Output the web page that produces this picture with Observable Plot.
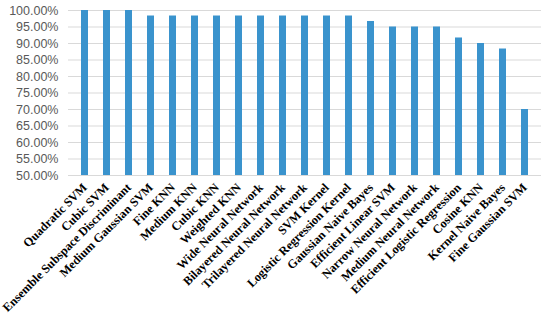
<!DOCTYPE html>
<html><head><meta charset="utf-8">
<script src="https://cdn.jsdelivr.net/npm/d3@7"></script>
<script src="https://cdn.jsdelivr.net/npm/@observablehq/plot@0.6"></script>
<style>body{margin:0;background:#fff}</style>
</head><body><div id="chart"></div>
<script>
const models = ["Quadratic SVM","Cubic SVM","Ensemble Subspace Discriminant","Medium Gaussian SVM","Fine KNN","Medium KNN","Cubic KNN","Weighted KNN","Wide Neural Network","Bilayered Neural Network","Trilayered Neural Network","SVM Kernel","Logistic Regression Kernel","Gaussian Naive Bayes","Efficient Linear SVM","Narrow Neural Network","Medium Neural Network","Efficient Logistic Regression","Cosine KNN","Kernel Naive Bayes","Fine Gaussian SVM"];
const accuracy = [100,100,100,98.33,98.33,98.33,98.33,98.33,98.33,98.33,98.33,98.33,98.33,96.67,95,95,95,91.67,90,88.33,70];
const yTicks = [50,55,60,65,70,75,80,85,90,95,100];
const data = models.map((m,i)=>({model:m, acc:accuracy[i]}));
const chart = Plot.plot({
  width:550, height:314,
  marginTop:10, marginBottom:139, marginLeft:68, marginRight:9,
  style:{background:"#fff"},
  x:{domain:models, paddingInner:0.69, paddingOuter:0.4, label:null},
  y:{domain:[50,100], label:null},
  marks:[
    Plot.gridY(yTicks,{stroke:"#d9d9d9", strokeOpacity:1, strokeWidth:1}),
    Plot.barY(data,{x:"model", y1:50, y2:"acc", fill:"#3a93cd"}),
    Plot.axisY({ticks:yTicks, tickSize:0, tickPadding:10, tickFormat:d=>d.toFixed(2)+"%", fontSize:12.5, fill:"#595959", fontFamily:"Liberation Sans, Arial, sans-serif", label:null}),
    Plot.axisX({tickSize:0, tickPadding:10, tickRotate:-45, fontSize:12.3, fontWeight:"bold", fontFamily:"Liberation Serif, serif", fill:"#000", label:null})
  ]
});
document.getElementById("chart").appendChild(chart);
</script></body></html>
